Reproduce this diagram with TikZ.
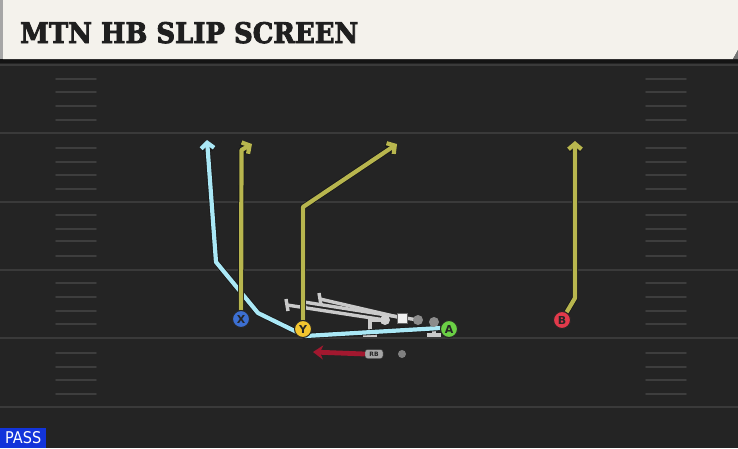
\documentclass[tikz,border=0pt]{standalone}
\usepackage{fontspec}
\usetikzlibrary{arrows.meta}
\newfontfamily\titlefont{DejaVu Serif Bold}[FakeBold=3]
\newfontfamily\labfont{DejaVu Sans}
\definecolor{field}{HTML}{242424}
\definecolor{yardline}{HTML}{3A3A3A}
\definecolor{hashc}{HTML}{3E3E3E}
\definecolor{cream}{HTML}{F4F2EC}
\definecolor{olive}{HTML}{B8B64E}
\definecolor{cyanr}{HTML}{AAE8F6}
\definecolor{rbred}{HTML}{A2182F}
\definecolor{xblue}{HTML}{3C6FD2}
\definecolor{yyellow}{HTML}{F3C52F}
\definecolor{agreen}{HTML}{6BD045}
\definecolor{bred}{HTML}{E23A4B}
\definecolor{blockg}{HTML}{CACACA}
\definecolor{passblue}{HTML}{1234DA}
\begin{document}
\begin{tikzpicture}[x=1pt,y=-1pt,
  player/.style={circle,draw=black!85,line width=1pt,minimum size=17pt,inner sep=0pt,
    font=\labfont\bfseries\fontsize{11}{11}\selectfont,text=black!85},
  route/.style={line width=4.2pt,draw=#1,line join=round,
    preaction={draw=black!90,line width=5.8pt}},
  tip/.style={-{Straight Barb[length=5.5pt,width=13pt]}},
  blockline/.style={draw=blockg,line width=3.4pt},
  yard/.style={draw=yardline,line width=2pt},
  hashm/.style={draw=hashc,line width=1.6pt,line cap=round}]
\useasboundingbox (0,0) rectangle (738,448);
\fill[field] (0,0) rectangle (738,448);
% yard lines
\foreach \yy in {65,133,202,270,338,407} \draw[yard] (0,\yy) -- (738,\yy);
% hash marks
\foreach \yy in {79,92,106,120,148,162,175,189,215,229,241,256,283,297,311,324,353,367,380,394}{
  \draw[hashm] (56,\yy) -- (96,\yy);
  \draw[hashm] (646,\yy) -- (686,\yy);
}
% header
\fill[black!92] (0,58) rectangle (738,63);
\fill[black!35] (0,0) rectangle (3,59);
\fill[cream] (3,0) -- (738,0) -- (738,50) -- (733,59) -- (3,59) -- cycle;
\fill[black!55] (738,50) -- (738,59) -- (733,59) -- cycle;
\node[anchor=base west,inner sep=0pt,text=black!88] (title) at (20,43)
  {\resizebox{338pt}{21pt}{\titlefont MTN HB SLIP SCREEN}};
% PASS label
\node[anchor=south west,fill=passblue,text=white,inner sep=0pt,minimum width=46pt,minimum height=20pt,
  font=\labfont\fontsize{14}{14}\selectfont] (pass) at (0,448) {\resizebox{36pt}{12pt}{PASS}};
% players
\node[player,fill=xblue] (X) at (241,319) {X};
\node[player,fill=yyellow] (Y) at (303,329) {Y};
\node[player,fill=agreen] (A) at (449,329) {A};
\node[player,fill=bred] (B) at (562,320) {B};
% route coordinates
\coordinate (xc) at (241.5,150);
\coordinate (xt) at (252,144);
\coordinate (yc) at (303,207);
\coordinate (yt) at (397,144);
\coordinate (bc) at (575,298);
\coordinate (bt) at (575,141);
\coordinate (a1) at (440,328);
\coordinate (a2) at (305,336);
\coordinate (a3) at (258,313);
\coordinate (a4) at (216,262);
\coordinate (at) at (207,140);
% blocking lines (offensive line)
\coordinate (l1) at (385,320);
\coordinate (l2) at (402,318);
\coordinate (l3) at (418,320);
\coordinate (l4) at (434,322);
\coordinate (t1) at (287,305);
\coordinate (t2) at (304,302);
\coordinate (t3) at (320,299);
\coordinate (s1) at (370,335);
\coordinate (s4) at (434,335);
\draw[blockline] (l1) -- (t1);
\draw[blockline] (l3) -- (t2);
\draw[blockline] (l2) -- (t3);
\draw[blockline] (l1) -- (370,320) -- (s1);
\draw[blockline] (l4) -- (s4);
\draw[blockline] (286,299) -- (288,311);
\draw[blockline] (303,296) -- (305,308);
\draw[blockline] (319,293) -- (321,305);
\draw[blockline] (363,335) -- (377,335);
\draw[blockline] (427,335) -- (441,335);
% routes
\draw[route=cyanr,tip] (A) -- (a1) -- (a2) -- (a3) -- (a4) -- (at);
\draw[route=olive,tip] (X) -- (xc) -- (xt);
\draw[route=olive,tip] (Y) -- (yc) -- (yt);
\draw[route=olive,tip] (B) -- (bc) -- (bt);
% linemen
\node[circle,fill=blockg!90,inner sep=0pt,minimum size=10pt] (c1) at (l1) {};
\node[fill=white!94!black,draw=black!60,line width=0.4pt,inner sep=0pt,minimum size=10pt] (c2) at (l2) {};
\node[circle,fill=black!45,inner sep=0pt,minimum size=10pt] (c3) at (l3) {};
\node[circle,fill=black!45,inner sep=0pt,minimum size=10pt] (c4) at (l4) {};
% players on top
\node[player,fill=xblue] at (X) {X};
\node[player,fill=yyellow] at (Y) {Y};
\node[player,fill=agreen] at (A) {A};
\node[player,fill=bred] at (B) {B};
% RB
\node[draw=black!80,fill=black!35,rounded corners=2.5pt,inner sep=1pt,minimum width=18pt,minimum height=9pt,
  font=\labfont\bfseries\fontsize{6}{6}\selectfont,text=black!85] (RB) at (374,354) {RB};
\coordinate (rbt) at (313,352);
\draw[draw=rbred,line width=4.8pt,-{Stealth[length=10pt,width=14pt,inset=3pt]}] (RB.west) -- (rbt);
\node[circle,fill=black!50,inner sep=0pt,minimum size=8pt] (qb) at (402,354) {};
\end{tikzpicture}
\end{document}
